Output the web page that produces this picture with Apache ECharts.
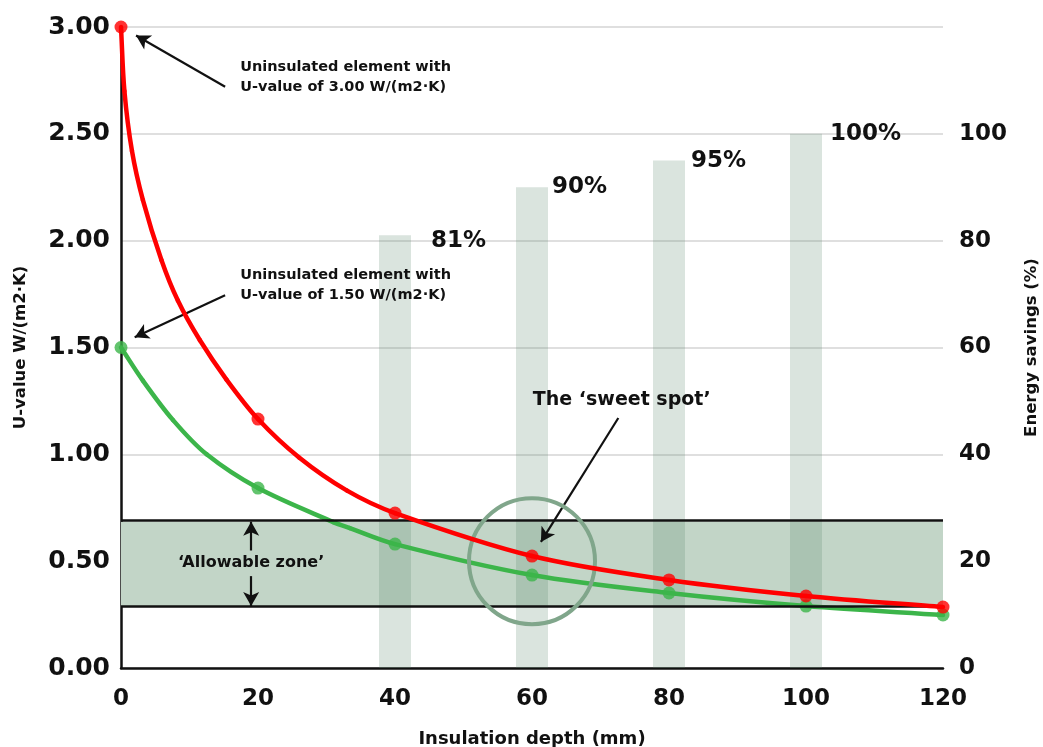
<!DOCTYPE html>
<html>
<head>
<meta charset="utf-8">
<script src="https://cdn.jsdelivr.net/npm/echarts@6/dist/echarts.min.js"></script>
<style>
html,body{margin:0;padding:0;background:#fff;}
#chart{width:1043px;height:747px;}
</style>
</head>
<body>
<div id="chart"></div>
<script>
// ---- data ----
const depths = [0, 20, 40, 60, 80, 100, 120];
const uHigh = [3.00, 1.165, 0.725, 0.524, 0.412, 0.337, 0.285];
const uLow = [1.50, 0.842, 0.58, 0.435, 0.351, 0.29, 0.248];
// extra points (for the curve shape)
const highCurveDepths = [0, 0.5, 1.6, 3.2, 5.9, 8.3, 11.5, 15.4, 20, 26, 33, 40, 60, 80, 100, 120];
const highCurveU = [3.00, 2.70, 2.42, 2.19, 1.91, 1.72, 1.535, 1.35, 1.165, 0.985, 0.83, 0.725, 0.524, 0.412, 0.337, 0.285];
const lowCurveDepths = [0, 3.2, 7.6, 12.5, 20, 31, 33.4, 40, 60, 80, 100, 120];
const lowCurveU = [1.50, 1.345, 1.16, 1.0, 0.842, 0.683, 0.655, 0.58, 0.435, 0.351, 0.29, 0.248];
const barDepths = [40, 60, 80, 100];
const savings = [81, 90, 95, 100];
const savingLabels = ['81%', '90%', '95%', '100%'];
const zoneBounds = [0.29, 0.685];
const leftTicks = ['0.00', '0.50', '1.00', '1.50', '2.00', '2.50', '3.00'];
const rightTicks = ['0', '20', '40', '60', '80', '100', ''];
const xTicks = ['0', '20', '40', '60', '80', '100', '120'];

const FONT = 'DejaVu Sans';
const labelOffsets = [[20, 6], [4, 0], [6, 0], [8, 0]];

const chart = echarts.init(document.getElementById('chart'));
const arrowLine = (a, b) => [{ coord: a }, { coord: b }];
const zip = (xs, ys) => xs.map((x, i) => [x, ys[i]]);

// smooth curve drawn segment by segment through the axis scales (api.coord)
function splineRenderer(xs, ys, color) {
  const n = xs.length;
  return function (params, api) {
    const i = params.dataIndex;
    if (i >= n - 1) return null;
    const P = k => api.coord([xs[Math.max(0, Math.min(n - 1, k))], ys[Math.max(0, Math.min(n - 1, k))]]);
    const dist = (a, b) => Math.hypot(b[0] - a[0], b[1] - a[1]);
    const tangent = k => {
      const a = P(k - 1), b = P(k + 1), c = P(k);
      const d = (k > 0 ? dist(a, c) : 0) + (k < n - 1 ? dist(c, b) : 0);
      return d ? [(b[0] - a[0]) / d, (b[1] - a[1]) / d] : [0, 0];
    };
    const p0 = P(i), p1 = P(i + 1);
    const seg = dist(p0, p1) / 3;
    const t0 = tangent(i), t1 = tangent(i + 1);
    return {
      type: 'bezierCurve',
      shape: {
        x1: p0[0], y1: p0[1], x2: p1[0], y2: p1[1],
        cpx1: p0[0] + t0[0] * seg, cpy1: p0[1] + t0[1] * seg,
        cpx2: p1[0] - t1[0] * seg, cpy2: p1[1] - t1[1] * seg
      },
      style: { stroke: color, lineWidth: 4.5, fill: null, lineCap: 'round' },
      silent: true
    };
  };
}

chart.setOption({
  animation: false,
  textStyle: { fontFamily: FONT },
  grid: { left: 121, right: 100, top: 27, bottom: 79, containLabel: false, outerBoundsMode: 'none' },
  xAxis: {
    type: 'value', min: 0, max: 120, interval: 20,
    name: 'Insulation depth (mm)', nameLocation: 'middle', nameGap: 62,
    nameTextStyle: { fontFamily: FONT, fontWeight: 'bold', fontSize: 18, color: '#111' },
    axisLine: { lineStyle: { color: '#111', width: 2.5 } },
    axisTick: { show: false },
    splitLine: { show: false },
    axisLabel: {
      margin: 20, fontFamily: FONT, fontWeight: 'bold', fontSize: 23, color: '#111',
      formatter: v => xTicks[depths.indexOf(v)] ?? ''
    }
  },
  yAxis: [{
    type: 'value', min: 0, max: 3, interval: 0.5,
    name: 'U-value W/(m2·K)', nameLocation: 'middle', nameGap: 92, nameRotate: 90,
    nameTextStyle: { fontFamily: FONT, fontWeight: 'bold', fontSize: 16.5, color: '#111' },
    axisLine: { show: true, lineStyle: { color: '#111', width: 2.5 } },
    axisTick: { show: false },
    splitLine: { lineStyle: { color: '#d4d4d4', width: 1.5 } },
    axisLabel: {
      margin: 11, fontFamily: FONT, fontWeight: 'bold', fontSize: 25, color: '#111',
      formatter: v => leftTicks[Math.round(v * 2)] ?? ''
    }
  }, {
    type: 'value', min: 0, max: 120, interval: 20, position: 'right',
    name: 'Energy savings (%)', nameLocation: 'middle', nameGap: 80, nameRotate: 90,
    nameTextStyle: { fontFamily: FONT, fontWeight: 'bold', fontSize: 16.5, color: '#111' },
    axisLine: { show: false }, axisTick: { show: false }, splitLine: { show: false },
    axisLabel: {
      margin: 16, fontFamily: FONT, fontWeight: 'bold', fontSize: 23, color: '#111',
      formatter: v => rightTicks[Math.round(v / 20)] ?? ''
    }
  }],
  series: [
    {
      // allowable zone
      type: 'line', data: [], z: 1,
      markArea: {
        silent: true,
        itemStyle: { color: '#c2d5c7' },
        data: [[{ yAxis: zoneBounds[0] }, { yAxis: zoneBounds[1] }]]
      },
      markLine: {
        silent: true, symbol: 'none',
        lineStyle: { color: '#111', width: 2.5, type: 'solid' },
        label: { show: false },
        data: [{ yAxis: zoneBounds[0] }, { yAxis: zoneBounds[1] }]
      }
    },
    {
      type: 'bar', yAxisIndex: 1, z: 2, barWidth: 32,
      itemStyle: { color: 'rgba(85,132,105,0.22)' },
      data: barDepths.map((d, i) => ({
        value: [d, savings[i]],
        label: {
          show: true, position: ['100%', 0], align: 'left', verticalAlign: 'middle',
          offset: labelOffsets[i], formatter: savingLabels[i],
          fontFamily: FONT, fontWeight: 'bold', fontSize: 23, color: '#111'
        }
      }))
    },
    {
      type: 'custom', coordinateSystem: 'cartesian2d', z: 3, clip: false, silent: true,
      data: zip(lowCurveDepths, lowCurveU), encode: { x: 0, y: 1 },
      renderItem: splineRenderer(lowCurveDepths, lowCurveU, '#3cb54a')
    },
    {
      type: 'scatter', z: 4, symbol: 'circle', symbolSize: 13, silent: true,
      data: zip(depths, uLow),
      itemStyle: { color: '#3cb54a' }
    },
    {
      type: 'custom', coordinateSystem: 'cartesian2d', z: 5, clip: false, silent: true,
      data: zip(highCurveDepths, highCurveU), encode: { x: 0, y: 1 },
      renderItem: splineRenderer(highCurveDepths, highCurveU, '#ff0000')
    },
    {
      type: 'scatter', z: 6, symbol: 'circle', symbolSize: 13, silent: true,
      data: zip(depths, uHigh),
      itemStyle: { color: '#ff0000' }
    },
    {
      // annotations
      type: 'line', data: [], z: 7,
      markLine: {
        silent: true, symbol: ['none', 'arrow'], symbolSize: [12, 14],
        lineStyle: { color: '#111', width: 2.2, type: 'solid' },
        label: { show: false },
        data: [
          arrowLine([15.2, 2.72], [2.2, 2.96]),
          arrowLine([15.2, 1.745], [2.0, 1.548]),
          arrowLine([72.6, 1.17], [61.3, 0.59]),
          arrowLine([19.0, 0.55], [19.0, 0.685]),
          arrowLine([19.0, 0.43], [19.0, 0.29])
        ]
      },
      markPoint: {
        silent: true,
        data: [
          {
            coord: [60, 0.5], symbol: 'circle', symbolSize: 126,
            itemStyle: { color: 'rgba(0,0,0,0)', borderColor: '#80a68b', borderWidth: 4 },
            label: { show: false }
          },
          {
            coord: [17.4, 2.765], symbol: 'circle', symbolSize: 0,
            label: {
              show: true, position: 'right', distance: 0, align: 'left', verticalAlign: 'middle',
              formatter: 'Uninsulated element with\nU-value of 3.00 W/(m2·K)',
              fontFamily: FONT, fontWeight: 'bold', fontSize: 14.5, lineHeight: 20, color: '#111'
            }
          },
          {
            coord: [17.4, 1.79], symbol: 'circle', symbolSize: 0,
            label: {
              show: true, position: 'right', distance: 0, align: 'left', verticalAlign: 'middle',
              formatter: 'Uninsulated element with\nU-value of 1.50 W/(m2·K)',
              fontFamily: FONT, fontWeight: 'bold', fontSize: 14.5, lineHeight: 20, color: '#111'
            }
          },
          {
            coord: [73.1, 1.254], symbol: 'circle', symbolSize: 0,
            label: {
              show: true, position: 'inside', align: 'center', verticalAlign: 'middle',
              formatter: 'The ‘sweet spot’',
              fontFamily: FONT, fontWeight: 'bold', fontSize: 19, color: '#111'
            }
          },
          {
            coord: [19.0, 0.49], symbol: 'circle', symbolSize: 0,
            label: {
              show: true, position: 'inside', align: 'center', verticalAlign: 'middle',
              formatter: '‘Allowable zone’',
              fontFamily: FONT, fontWeight: 'bold', fontSize: 16, color: '#111'
            }
          }
        ]
      }
    }
  ]
});
</script>
</body>
</html>
